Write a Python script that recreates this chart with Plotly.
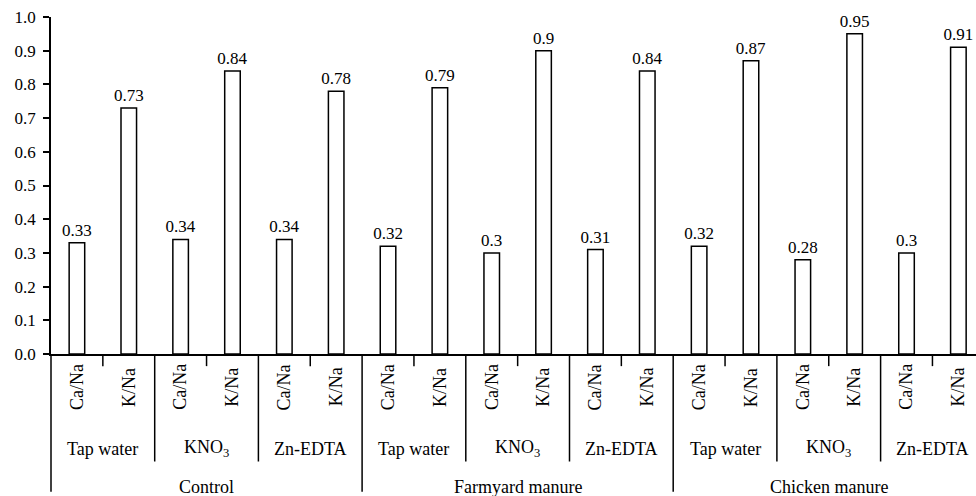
import plotly.graph_objects as go

# ---- data ----
main_groups = ["Control", "Farmyard manure", "Chicken manure"]
sub_groups = ["Tap water", "KNO<sub>3</sub>", "Zn-EDTA"]
ratios = ["Ca/Na", "K/Na"]
ca_na = [0.33, 0.34, 0.34, 0.32, 0.30, 0.31, 0.32, 0.28, 0.30]
k_na = [0.73, 0.84, 0.78, 0.79, 0.90, 0.84, 0.87, 0.95, 0.91]
y_ticks = [0.0, 0.1, 0.2, 0.3, 0.4, 0.5, 0.6, 0.7, 0.8, 0.9, 1.0]

values = []
labels = []
for c, k in zip(ca_na, k_na):
    values += [c, k]
    labels += ratios
xs = list(range(len(values)))
n = len(values)

FONT = "Liberation Serif, Times New Roman, serif"
xmin, xmax = -0.5, 17.34

fig = go.Figure(go.Bar(
    x=xs, y=values, width=0.3,
    marker=dict(color="white", line=dict(color="black", width=1.5)),
    text=[f"{v:g}" for v in values], textposition="outside",
    constraintext="none",
    textfont=dict(family=FONT, size=17, color="black"),
    cliponaxis=False, showlegend=False,
))

def px(b):
    # boundary b (between category b-1 and b) -> paper x
    return (b - 0.5 - xmin) / (xmax - xmin)

shapes = []
for b in range(0, n):
    if b % 6 == 0:
        y1 = -0.409
    elif b % 2 == 0:
        y1 = -0.319
    else:
        y1 = -0.036
    shapes.append(dict(type="line", xref="paper", yref="paper",
                       x0=px(b), x1=px(b), y0=0, y1=y1,
                       line=dict(color="black", width=1.5)))

annotations = []
for i, lab in enumerate(labels):
    annotations.append(dict(x=i, y=-0.0985, xref="x", yref="paper", text=lab,
                            textangle=-90, showarrow=False,
                            font=dict(family=FONT, size=18, color="black"),
                            xanchor="center", yanchor="middle"))
for g in range(len(main_groups)):
    for s, sg in enumerate(sub_groups):
        annotations.append(dict(x=6 * g + 2 * s + 0.5, y=-0.281, xref="x", yref="paper",
                                text=sg, showarrow=False,
                                font=dict(family=FONT, size=18, color="black"),
                                xanchor="center", yanchor="middle"))
    annotations.append(dict(x=6 * g + 2.5, y=-0.394, xref="x", yref="paper",
                            text=main_groups[g], showarrow=False,
                            font=dict(family=FONT, size=18, color="black"),
                            xanchor="center", yanchor="middle"))

fig.update_layout(
    width=976, height=496,
    margin=dict(l=51, r=0, t=17, b=142, autoexpand=False),
    plot_bgcolor="white", paper_bgcolor="white",
    font=dict(family=FONT, color="black"),
    shapes=shapes, annotations=annotations,
    xaxis=dict(range=[xmin, xmax], showticklabels=False, ticks="", showgrid=False,
               automargin=False,
               zeroline=False, showline=True, linecolor="black", linewidth=1.5),
    yaxis=dict(range=[0, 1.0], tickvals=y_ticks, ticktext=[f"{t:.1f}" for t in y_ticks],
               ticks="outside", ticklen=6, tickwidth=1.5, tickcolor="black",
               ticklabelstandoff=4, automargin=False,
               tickfont=dict(family=FONT, size=17, color="black"),
               showgrid=False, zeroline=False, showline=True,
               linecolor="black", linewidth=1.5),
)

fig.write_html("out.html", config={"displayModeBar": False},
               post_script="document.body.style.margin='0';document.body.style.overflow='hidden';")
